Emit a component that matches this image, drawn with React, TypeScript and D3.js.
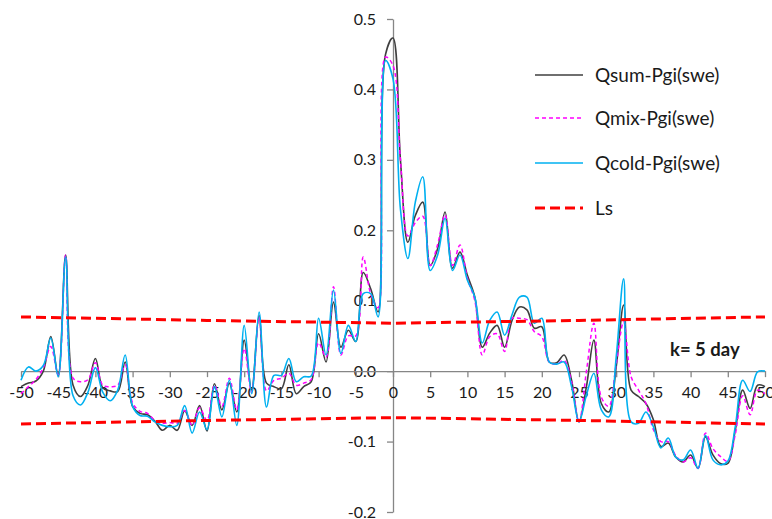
import React, { useEffect, useRef } from "react";
import * as d3 from "d3";

// lags k = -50 .. 50
const lags = d3.range(-50, 51);

const qsum = [
  -0.022, -0.017, -0.014, 0.0, 0.049, -0.006, 0.165, -0.02, -0.036, -0.02,
  0.018, -0.024, -0.028, -0.029, 0.013, -0.05, -0.06, -0.062, -0.071, -0.084,
  -0.077, -0.084, -0.056, -0.077, -0.049, -0.085, -0.018, -0.055, -0.017, -0.058,
  0.044, -0.027, 0.079, -0.017, -0.022, -0.025, 0.009, -0.032, -0.022, -0.015,
  0.053, 0.013, 0.098, 0.034, 0.058, 0.042, 0.14, 0.117, 0.084, 0.45,
  0.473,
  0.3, 0.183, 0.221, 0.24, 0.15, 0.174, 0.226, 0.146, 0.169, 0.136,
  0.105, 0.034, 0.054, 0.065, 0.034, 0.072, 0.091, 0.087, 0.061, 0.063,
  0.013, 0.012, 0.023, -0.013, -0.072, -0.022, 0.044, -0.046, -0.058, 0.006,
  0.094, -0.027, -0.036, -0.046, -0.069, -0.107, -0.102, -0.122, -0.129, -0.119,
  -0.138, -0.093, -0.119, -0.131, -0.131, -0.084, -0.027, -0.053, -0.02, -0.022,
];

const qmix = [
  -0.032, -0.022, -0.012, 0.005, 0.035, -0.005, 0.165, -0.01, -0.015, -0.012,
  0.012, -0.02, -0.022, -0.02, 0.009, -0.045, -0.057, -0.06, -0.07, -0.074,
  -0.073, -0.074, -0.056, -0.077, -0.052, -0.07, -0.02, -0.05, -0.01, -0.055,
  0.032, -0.03, 0.077, -0.028, -0.013, -0.01, -0.003, -0.02, -0.017, -0.012,
  0.04, 0.02, 0.12, 0.023, 0.05, 0.05, 0.162, 0.11, 0.09, 0.446,
  0.434,
  0.3, 0.192, 0.211, 0.22, 0.15, 0.18, 0.222, 0.15, 0.179, 0.132,
  0.1, 0.023, 0.049, 0.053, 0.028, 0.075, 0.075, 0.073, 0.056, 0.049,
  0.013, 0.01, 0.015, -0.015, -0.072, 0.0, 0.068, -0.037, -0.05, 0.01,
  0.07, -0.008, -0.027, -0.046, -0.083, -0.1, -0.1, -0.12, -0.129, -0.123,
  -0.138, -0.088, -0.11, -0.121, -0.128, -0.09, -0.035, -0.062, -0.027, -0.032,
];

const qcold = [
  -0.013, 0.006, 0.0, 0.008, 0.047, -0.008, 0.162, -0.035, -0.048, -0.03,
  0.005, -0.03, -0.042, -0.027, 0.023, -0.05, -0.063, -0.064, -0.072, -0.077,
  -0.079, -0.077, -0.049, -0.088, -0.058, -0.083, -0.022, -0.065, -0.013, -0.077,
  0.065, -0.032, 0.084, -0.051, -0.006, -0.006, 0.018, -0.015, -0.008, -0.007,
  0.075, 0.023, 0.115, 0.025, 0.065, 0.042, 0.11, 0.11, 0.077, 0.441,
  0.415,
  0.23, 0.16, 0.24, 0.276, 0.143, 0.165, 0.217, 0.143, 0.165, 0.129,
  0.105, 0.04, 0.072, 0.084, 0.051, 0.08, 0.105, 0.105, 0.068, 0.075,
  0.013, 0.01, 0.013, -0.022, -0.072, -0.034, -0.003, -0.055, -0.065, 0.02,
  0.131, -0.072, -0.074, -0.058, -0.079, -0.109, -0.095, -0.122, -0.126, -0.112,
  -0.138, -0.091, -0.126, -0.133, -0.128, -0.079, -0.013, -0.029, -0.001, 0.0,
];

// significance limits
const lsLags = [-50, -25, 0, 25, 50];
const lsUpper = [0.077, 0.072, 0.068, 0.072, 0.077];
const lsLower = [-0.075, -0.07, -0.066, -0.07, -0.075];

const xTicks = d3.range(-50, 51, 5);
const yTicks = [-0.2, -0.1, 0.0, 0.1, 0.2, 0.3, 0.4, 0.5];

const legendNames = ["Qsum-Pgi(swe)", "Qmix-Pgi(swe)", "Qcold-Pgi(swe)", "Ls"];

const W = 772;
const H = 519;
const FONT = "Lato, 'Open Sans', sans-serif";

const App = () => {
  const ref = useRef<SVGSVGElement>(null);

  useEffect(() => {
    const svg = d3.select(ref.current);
    svg.selectAll("*").remove();

    const x = d3.scaleLinear().domain([-50, 50]).range([21, 765]);
    const y = d3.scaleLinear().domain([-0.2, 0.5]).range([512, 19]);

    const styles = [
      { color: "#3f3f3f", width: 1.6, dash: null },
      { color: "#ff00ff", width: 1.5, dash: "4,3" },
      { color: "#00b0f0", width: 1.6, dash: null },
      { color: "#ff0000", width: 3, dash: "10,5" },
    ];

    // y axis through x = 0
    const yAxis = svg
      .append("g")
      .attr("transform", `translate(${x(0)},0)`)
      .call(
        d3
          .axisLeft(y)
          .tickValues(yTicks)
          .tickFormat((d) => (+d).toFixed(1))
          .tickSize(6)
          .tickSizeOuter(0)
          .tickPadding(11)
      );
    // x axis through y = 0
    const xAxis = svg
      .append("g")
      .attr("transform", `translate(0,${y(0)})`)
      .call(
        d3
          .axisBottom(x)
          .tickValues(xTicks)
          .tickFormat((d) => String(d))
          .tickSize(6)
          .tickSizeOuter(0)
          .tickPadding(9)
      );

    [xAxis, yAxis].forEach((g) => {
      g.select(".domain").attr("stroke", "#868686").attr("stroke-width", 1.3);
      g.selectAll(".tick line").attr("stroke", "#868686").attr("stroke-width", 1.3);
      g.selectAll(".tick text").attr("fill", "#1a1a1a").style("font-family", FONT).style("font-size", "16px");
    });

    const line = d3
      .line<number>()
      .x((_, i) => x(lags[i]))
      .y((d) => y(d))
      .curve(d3.curveCatmullRom.alpha(0.5));

    [qsum, qmix, qcold].forEach((series, i) => {
      svg
        .append("path")
        .attr("d", line(series))
        .attr("fill", "none")
        .attr("stroke", styles[i].color)
        .attr("stroke-width", styles[i].width)
        .attr("stroke-dasharray", styles[i].dash);
    });

    const lsLine = d3
      .line<number>()
      .x((_, i) => x(lsLags[i]))
      .y((d) => y(d));

    [lsUpper, lsLower].forEach((series) => {
      svg
        .append("path")
        .attr("d", lsLine(series))
        .attr("fill", "none")
        .attr("stroke", styles[3].color)
        .attr("stroke-width", styles[3].width)
        .attr("stroke-dasharray", styles[3].dash);
    });

    // legend
    const legendY = [75, 118, 163, 208];
    const legend = svg.append("g");
    legendNames.forEach((name, i) => {
      legend
        .append("line")
        .attr("x1", 535)
        .attr("x2", 583)
        .attr("y1", legendY[i])
        .attr("y2", legendY[i])
        .attr("stroke", styles[i].color)
        .attr("stroke-width", styles[i].width)
        .attr("stroke-dasharray", styles[i].dash);
      legend
        .append("text")
        .attr("x", 595)
        .attr("y", legendY[i])
        .attr("dy", "0.35em")
        .attr("fill", "#1a1a1a")
        .style("font-family", FONT)
        .style("font-size", "19px")
        .text(name);
    });

    svg
      .append("text")
      .attr("x", 670)
      .attr("y", 350)
      .attr("dy", "0.35em")
      .attr("fill", "#1a1a1a")
      .style("font-family", FONT)
      .style("font-size", "18.5px")
      .style("font-weight", "bold")
      .text("k= 5 day");
  }, []);

  return (
    <svg
      ref={ref}
      width={W}
      height={H}
      style={{ position: "absolute", left: 0, top: 0, background: "#fff" }}
    ></svg>
  );
};

export default App;
